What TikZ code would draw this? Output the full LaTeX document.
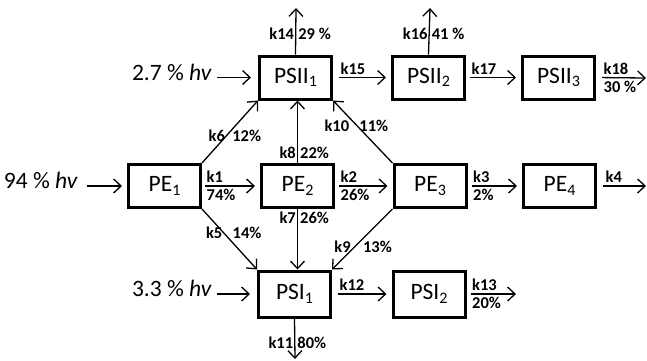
\documentclass[tikz,border=0pt]{standalone}
\usepackage{fontspec}
\setmainfont{Carlito}
\usetikzlibrary{arrows.meta}
\newcommand\mysub[1]{\raisebox{-0.3ex}{\fontsize{16}{16}\selectfont #1}}
\begin{document}
\begin{tikzpicture}[x=1pt,y=-1pt,
  box/.style={draw, line width=3pt, minimum width=72pt, minimum height=43pt, inner sep=0pt, font=\fontsize{23.5}{26}\selectfont},
  arr/.style={line width=1.3pt, -{Straight Barb[length=7.5pt,width=14pt,line width=1.3pt]}},
  lbl/.style={font=\bfseries\fontsize{16.5}{18}\selectfont, inner sep=1pt},
  up/.style={lbl, pos=0, anchor=south west, yshift=1.5pt},
  dn/.style={lbl, pos=0, anchor=north west, yshift=-1.5pt},
  hv/.style={font=\fontsize{23.5}{26}\selectfont, inner sep=0pt}]
\useasboundingbox (0,0) rectangle (647,360);
% boxes
\node[box] (PSIIa) at (295.5,77.5) {PSII\mysub{1}};
\node[box] (PSIIb) at (428.5,77.5) {PSII\mysub{2}};
\node[box] (PSIIc) at (558.5,77.5) {PSII\mysub{3}};
\node[box] (PEa) at (164.5,186) {PE\mysub{1}};
\node[box] (PEb) at (297.5,186) {PE\mysub{2}};
\node[box] (PEc) at (430,186) {PE\mysub{3}};
\node[box] (PEd) at (559.5,186) {PE\mysub{4}};
\node[box, minimum height=46pt] (PSIa) at (294.5,294) {PSI\mysub{1}};
\node[box, minimum height=46pt] (PSIb) at (429,294) {PSI\mysub{2}};
% light inputs
\node[hv, anchor=east] (hva) at (78,180) {94 \% \textit{hv}};
\node[hv, anchor=east] (hvb) at (212,72) {2.7 \% \textit{hv}};
\node[hv, anchor=east] (hvc) at (212,288) {3.3 \% \textit{hv}};
\draw[arr, shorten <=9pt, shorten >=5pt] (hva.east |- PEa.west) -- (PEa.west);
\draw[arr, shorten <=5pt, shorten >=7pt] (hvb.east |- PSIIa.west) -- (PSIIa.west);
\draw[arr, shorten <=5pt, shorten >=7pt] (hvc.east |- PSIa.west) -- (PSIa.west);
% free ends
\coordinate (e4) at (646,186);
\coordinate (e18) at (646,78);
\coordinate (e13) at (516,294);
\coordinate (e14) at (296,8);
\coordinate (e16) at (430,8);
\coordinate (e11) at (295,359);
% horizontal arrows
\draw[arr, shorten <=3pt, shorten >=5pt] (PEa) -- node[up, xshift=3pt]{k1} node[dn, xshift=3pt]{74\%} (PEb);
\draw[arr, shorten <=4pt, shorten >=5pt] (PEb) -- node[up, xshift=4pt]{k2} node[dn, xshift=4pt]{26\%} (PEc);
\draw[arr, shorten <=4pt, shorten >=5pt] (PEc) -- node[up, xshift=4pt]{k3} node[dn, xshift=4pt]{2\%} (PEd);
\draw[arr, shorten <=6pt] (PEd.east) -- node[up, xshift=7pt]{k4} (e4);
\draw[arr, shorten <=6pt, shorten >=5pt] (PSIIa) -- node[up, xshift=6pt]{k15} (PSIIb);
\draw[arr, shorten <=4pt, shorten >=5pt] (PSIIb) -- node[up, xshift=4pt]{k17} (PSIIc);
\draw[arr, shorten <=6pt] (PSIIc.east) -- node[up, xshift=6pt]{k18} node[dn, xshift=6pt]{30 \%} (e18);
\draw[arr, shorten <=6pt, shorten >=5pt] (PSIa) -- node[up, xshift=6pt]{k12} (PSIb);
\draw[arr, shorten <=4pt] (PSIb.east) -- node[up, xshift=4pt]{k13} node[dn, xshift=4pt]{20\%} (e13);
% vertical arrows
\draw[arr] (PSIIa.north) -- node[lbl, pos=0.45, anchor=east]{k14} node[lbl, pos=0.45, anchor=west, xshift=1pt]{29 \%} (e14);
\draw[arr] (PSIIb.north) -- node[lbl, pos=0.45, anchor=east]{k16} node[lbl, pos=0.45, anchor=west, xshift=1pt]{41 \%} (e16);
\draw[arr] (PEb.north) -- node[lbl, pos=0.17, anchor=east]{k8} node[lbl, pos=0.17, anchor=west, xshift=1pt]{22\%} (PEb.north |- PSIIa.south);
\draw[arr] (PEb.south) -- node[lbl, pos=0.15, anchor=east]{k7} node[lbl, pos=0.15, anchor=west, xshift=1pt]{26\%} (PEb.south |- PSIa.north);
\draw[arr] (PSIa.south) -- node[lbl, pos=0.59, anchor=east]{k11} node[lbl, pos=0.59, anchor=west, xshift=1pt]{80\%} (e11);
% diagonal arrows
\draw[arr] (PEa.north east) -- node[lbl, pos=0.44, anchor=east]{k6} node[lbl, pos=0.44, anchor=west, xshift=4pt]{12\%} (PSIIa.south west);
\draw[arr] (PEa.south east) -- node[lbl, pos=0.4, anchor=east]{k5} node[lbl, pos=0.4, anchor=west, xshift=7pt]{14\%} (PSIa.north west);
\draw[arr] (PEc.north west) -- node[lbl, pos=0.6, anchor=east, xshift=-6pt]{k10} node[lbl, pos=0.6, anchor=west, xshift=1pt]{11\%} (PSIIa.south east);
\draw[arr] (PEc.south west) -- node[lbl, pos=0.63, anchor=east, xshift=-2pt]{k9} node[lbl, pos=0.63, anchor=west, xshift=7pt]{13\%} (PSIa.north east);
\end{tikzpicture}
\end{document}
